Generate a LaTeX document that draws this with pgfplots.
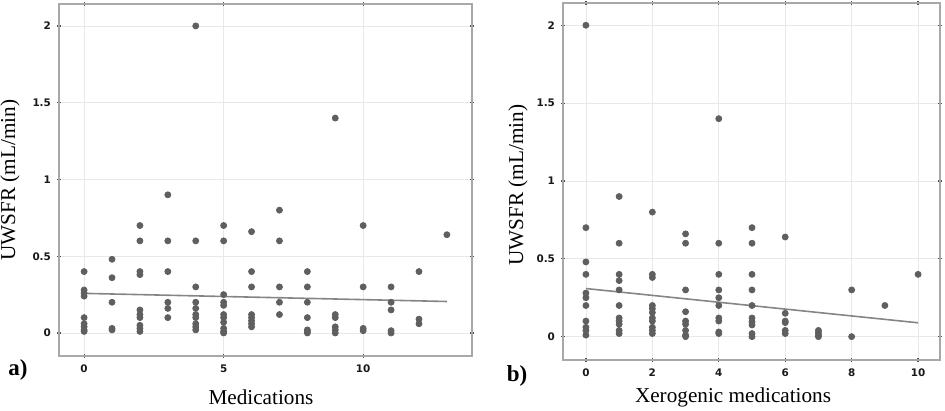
\documentclass[border=0pt]{standalone}
\usepackage{fontspec}
\setmainfont{Liberation Serif}
\newfontfamily\tickfont{DejaVu Sans}
\usepackage{pgfplots}
\pgfplotsset{compat=1.18}
\definecolor{dotc}{HTML}{5F5F5F}
\definecolor{linec}{HTML}{858585}
\definecolor{framec}{HTML}{A8A8A8}
\definecolor{gridc}{HTML}{E8E8E8}
\definecolor{tickc}{HTML}{505050}
\pgfplotsset{
  myax/.style={
    scale only axis,
    anchor=south west,
    ymin=-0.15, ymax=2.143,
    ytick={0,0.5,1,1.5,2},
    yticklabels={0,0.5,1,1.5,2},
    /pgf/number format/assume math mode=true,
    grid=major,
    major grid style={gridc, line width=0.4pt},
    axis line style={framec, line width=1pt},
    tick style={tickc, line width=0.6pt},
    major tick length=2pt,
    tick align=center,
    tick pos=both,
    ticklabel style={font=\tickfont\bfseries\fontsize{5.2}{6}\selectfont, text=black!90},
    yticklabel style={xshift=0.5pt},
    xticklabel style={yshift=0pt},
    label style={font=\fontsize{10.6}{12}\selectfont},
  }
}
\begin{document}
\begin{tikzpicture}
\begin{axis}[myax,
  at={(29.5pt,27.5pt)}, width=206.5pt, height=176pt,
  xmin=-0.9, xmax=13.9,
  xtick={0,5,10},
  xticklabels={0,5,10},
  xlabel={Medications},
  xlabel style={at={(axis description cs:0.489,-0.1165)}, anchor=center},
  ylabel={UWSFR (mL/min)},
  ylabel style={at={(axis description cs:-0.1186,0.5)}, anchor=center, rotate=0},
]
\addplot[only marks, mark=*, mark size=1.5pt, dotc, mark options={draw=dotc, fill=dotc}] coordinates {
(0,0.40) (0,0.28) (0,0.26) (0,0.24) (0,0.10) (0,0.06) (0,0.04) (0,0.02) (0,0.01)
(1,0.48) (1,0.36) (1,0.20) (1,0.03) (1,0.02)
(2,0.70) (2,0.60) (2,0.40) (2,0.38) (2,0.15) (2,0.12) (2,0.10) (2,0.05) (2,0.03) (2,0.01)
(3,0.90) (3,0.60) (3,0.40) (3,0.20) (3,0.16) (3,0.10)
(4,2.00) (4,0.60) (4,0.30) (4,0.20) (4,0.16) (4,0.12) (4,0.10) (4,0.06) (4,0.04) (4,0.02)
(5,0.70) (5,0.60) (5,0.25) (5,0.20) (5,0.18) (5,0.12) (5,0.10) (5,0.07) (5,0.03) (5,0.01) (5,0.00)
(6,0.66) (6,0.40) (6,0.30) (6,0.12) (6,0.10) (6,0.08) (6,0.06) (6,0.04)
(7,0.80) (7,0.60) (7,0.30) (7,0.20) (7,0.12)
(8,0.40) (8,0.30) (8,0.20) (8,0.10) (8,0.02) (8,0.01) (8,0.00)
(9,1.40) (9,0.12) (9,0.10) (9,0.04) (9,0.02) (9,0.00)
(10,0.70) (10,0.30) (10,0.03) (10,0.015)
(11,0.30) (11,0.20) (11,0.15) (11,0.015) (11,0.00)
(12,0.40) (12,0.09) (12,0.06)
(13,0.64)
};
\addplot[linec, line width=0.8pt] coordinates {(0,0.258) (13,0.205)};
\end{axis}
\begin{axis}[myax,
  at={(281.5pt,25.5pt)}, width=188.5pt, height=178.5pt,
  xmin=-0.69, xmax=10.66,
  xtick={0,2,4,6,8,10},
  xticklabels={0,2,4,6,8,10},
  xlabel={Xerogenic medications},
  xlabel style={at={(axis description cs:0.451,-0.1036)}, anchor=center},
  ylabel={UWSFR (mL/min)},
  ylabel style={at={(axis description cs:-0.1194,0.49)}, anchor=center, rotate=0},
]
\addplot[only marks, mark=*, mark size=1.5pt, dotc, mark options={draw=dotc, fill=dotc}] coordinates {
(0,2.00) (0,0.70) (0,0.48) (0,0.40) (0,0.28) (0,0.25) (0,0.20) (0,0.10) (0,0.06) (0,0.04) (0,0.01)
(1,0.90) (1,0.60) (1,0.40) (1,0.36) (1,0.30) (1,0.20) (1,0.12) (1,0.10) (1,0.08) (1,0.04) (1,0.02)
(2,0.80) (2,0.40) (2,0.38) (2,0.20) (2,0.18) (2,0.155) (2,0.12) (2,0.10) (2,0.06) (2,0.04) (2,0.02)
(3,0.66) (3,0.60) (3,0.30) (3,0.16) (3,0.10) (3,0.08) (3,0.04) (3,0.01) (3,0.00)
(4,1.40) (4,0.60) (4,0.40) (4,0.30) (4,0.25) (4,0.20) (4,0.12) (4,0.10) (4,0.03) (4,0.02)
(5,0.70) (5,0.60) (5,0.40) (5,0.30) (5,0.20) (5,0.12) (5,0.095) (5,0.075) (5,0.02) (5,0.00)
(6,0.64) (6,0.15) (6,0.10) (6,0.09) (6,0.04) (6,0.02)
(7,0.04) (7,0.025) (7,0.01) (7,0.00)
(8,0.30) (8,0.00)
(9,0.20)
(10,0.40)
};
\addplot[linec, line width=0.8pt] coordinates {(0,0.309) (10,0.089)};
\end{axis}
\node[font=\bfseries\fontsize{11.5}{13}\selectfont] at (9pt,20.5pt) {a)};
\node[font=\bfseries\fontsize{11.5}{13}\selectfont] at (258.5pt,17.5pt) {b)};
\pgfresetboundingbox
\path[use as bounding box] (0,0) rectangle (472.5pt,205.5pt);
\end{tikzpicture}
\end{document}
